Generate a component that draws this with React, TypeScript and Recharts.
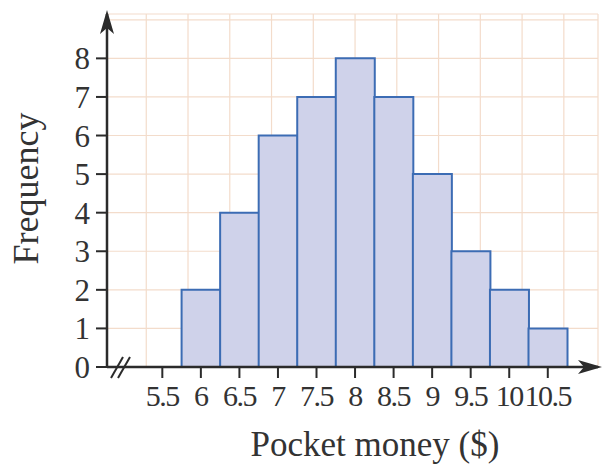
import { ComposedChart, Bar, XAxis, YAxis, CartesianGrid } from "recharts";

// class centres; the two end ones only pad the axis, they carry no bar and no label
const bins = [5, 5.5, 6, 6.5, 7, 7.5, 8, 8.5, 9, 9.5, 10, 10.5, 11];
const frequency = [null, 0, 2, 4, 6, 7, 8, 7, 5, 3, 2, 1, null];
const xTicks = [5.5, 6, 6.5, 7, 7.5, 8, 8.5, 9, 9.5, 10, 10.5];
const yTicks = [0, 1, 2, 3, 4, 5, 6, 7, 8];
// grid lines sit on the class boundaries (in band units) and on every whole frequency
const gridCols = [1, 2, 3, 4, 5, 6, 7, 8, 9, 10, 11, 12, 13];
const gridRows = [0, 1, 2, 3, 4, 5, 6, 7, 8, 9];

const data = bins.map((b, i) => ({ bin: b, freq: frequency[i] }));

const W = 605;
const H = 465;
const INK = "#2b2b2b";
const FONT = "'Liberation Serif', 'DejaVu Serif', serif";
const xPad = { left: -2.5, right: -7.6 };

export default function App() {
  return (
    <div style={{ position: "absolute", left: 0, top: 0, width: W, height: H, background: "#fff" }}>
      <ComposedChart
        width={W}
        height={H}
        data={data}
        margin={{ top: 14, right: 7, left: 0, bottom: 0 }}
        barCategoryGap={0}
        style={{ fontFamily: FONT }}
      >
        <XAxis xAxisId="grid" type="number" domain={[0, 13]} ticks={gridCols} padding={xPad} hide allowDataOverflow />
        <YAxis yAxisId="grid" type="number" domain={[0, 9.15]} ticks={gridRows} hide allowDataOverflow />
        <CartesianGrid xAxisId="grid" yAxisId="grid" stroke="#f3dccb" strokeWidth={1.2} />
        <XAxis
          xAxisId="cat"
          dataKey="bin"
          type="category"
          ticks={xTicks}
          interval={0}
          padding={xPad}
          height={98}
          tickSize={11}
          tickMargin={7}
          tick={{ fill: "#333", fontSize: 30, fontFamily: FONT, letterSpacing: -1.5 }}
          tickLine={{ stroke: INK, strokeWidth: 2 }}
          axisLine={{ stroke: INK, strokeWidth: 2.5, markerEnd: "url(#arrowHead)" }}
          label={{
            content: () => (
              <text x={375} y={456} textAnchor="middle" fill="#333" fontSize={35} fontFamily={FONT}>
                Pocket money ($)
              </text>
            ),
          }}
        />
        <YAxis
          yAxisId="freq"
          type="number"
          domain={[0, 9.15]}
          ticks={yTicks}
          interval={0}
          width={107}
          tickSize={11}
          tickMargin={6}
          tick={{ fill: "#333", fontSize: 31, fontFamily: FONT }}
          tickLine={{ stroke: INK, strokeWidth: 2 }}
          axisLine={{ stroke: INK, strokeWidth: 2.5, markerStart: "url(#arrowHeadUp)" }}
          allowDataOverflow
          label={{
            content: (p: any) => {
              const vb = p.viewBox || { y: 14, height: 353 };
              const cy = vb.y + vb.height / 2 - 2;
              return (
                <text
                  x={26}
                  y={cy}
                  transform={`rotate(-90, 26, ${cy})`}
                  textAnchor="middle"
                  dominantBaseline="central"
                  fill="#333"
                  fontSize={36}
                  fontFamily={FONT}
                >
                  Frequency
                </text>
              );
            },
          }}
        />
        <Bar
          xAxisId="cat"
          yAxisId="freq"
          dataKey="freq"
          fill="#cfd2ea"
          stroke="#3c6cb4"
          strokeWidth={2}
          isAnimationActive={false}
        />
      </ComposedChart>
      <svg
        width={W}
        height={H}
        style={{ position: "absolute", left: 0, top: 0, pointerEvents: "none" }}
      >
        <defs>
          <marker id="arrowHead" viewBox="0 0 24 16" refX={20} refY={8} markerWidth={24} markerHeight={16} markerUnits="userSpaceOnUse" orient="auto">
            <path d="M0,1 L24,8 L0,15 L6,8 Z" fill={INK} />
          </marker>
          <marker id="arrowHeadUp" viewBox="0 0 24 16" refX={20} refY={8} markerWidth={24} markerHeight={16} markerUnits="userSpaceOnUse" orient="auto-start-reverse">
            <path d="M0,1 L24,8 L0,15 L6,8 Z" fill={INK} />
          </marker>
        </defs>
        {/* axis break */}
        <line x1={111} y1={378} x2={123} y2={357} stroke={INK} strokeWidth={2} />
        <line x1={118} y1={378} x2={130} y2={357} stroke={INK} strokeWidth={2} />
      </svg>
    </div>
  );
}
